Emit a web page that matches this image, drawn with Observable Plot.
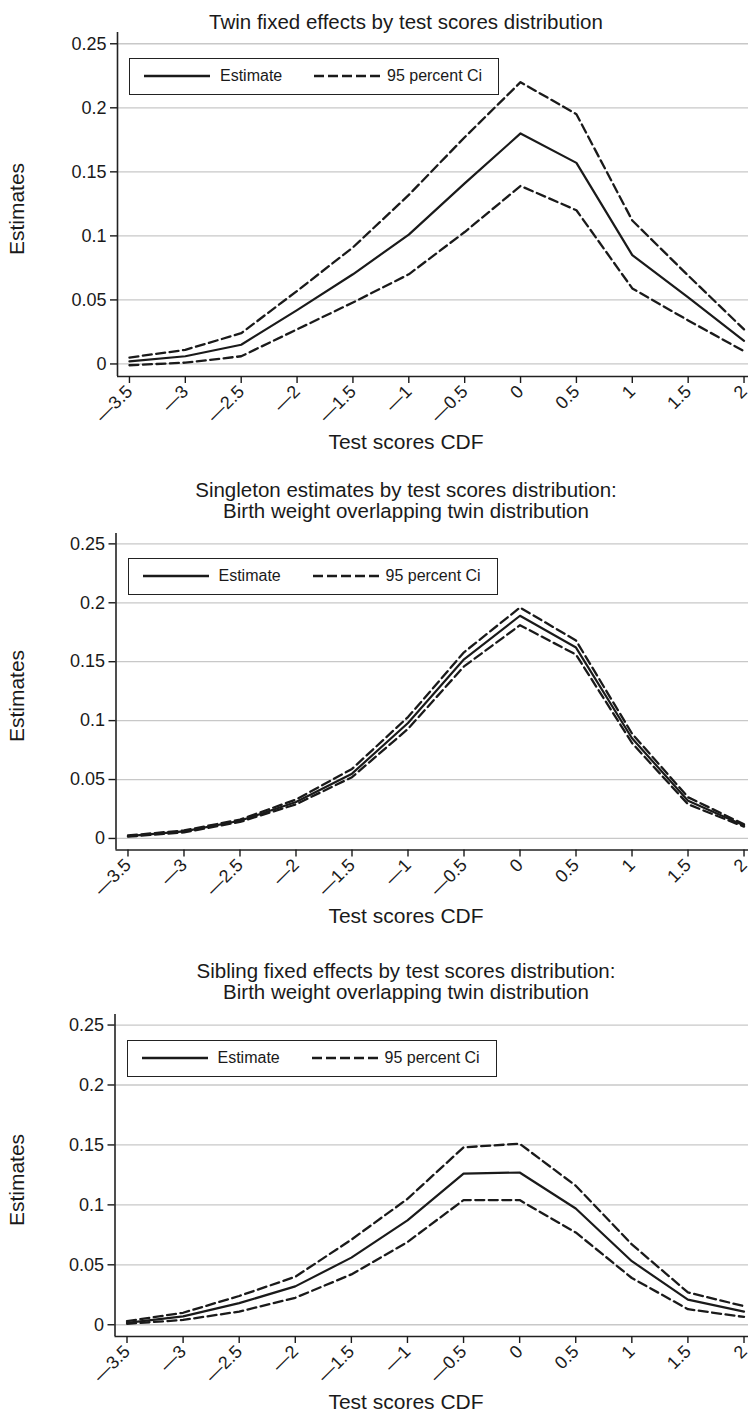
<!DOCTYPE html>
<html>
<head>
<meta charset="utf-8">
<script src="https://cdn.jsdelivr.net/npm/d3@7"></script>
<script src="https://cdn.jsdelivr.net/npm/@observablehq/plot@0.6"></script>
<style>
  body { margin: 0; background: #fff; }
  #page { position: relative; width: 748px; height: 1413px; overflow: hidden; background: #fff;
          font-family: "Liberation Sans", Arial, Helvetica, sans-serif; color: #1a1a1a; }
  .title { position: absolute; left: 0; width: 812px; text-align: center; font-size: 20.5px; line-height: 21px; white-space: nowrap; }
  .xlab { position: absolute; left: 0; width: 812px; text-align: center; font-size: 21px; line-height: 24px; white-space: nowrap; }
  .ylab { position: absolute; width: 200px; height: 24px; line-height: 24px; text-align: center; font-size: 21px; transform: rotate(-90deg); white-space: nowrap; }
  .plotwrap { position: absolute; left: 0; }
  .legend { position: absolute; width: 370px; height: 37px; box-sizing: border-box; border: 1.5px solid #222; background: #fff; }
  .legend span { position: absolute; top: 0; line-height: 34px; font-size: 16px; white-space: nowrap; }
  .legend svg { position: absolute; left: 0; top: 0; }
</style>
</head>
<body>
<div id="page"></div>
<script>
// ---------- data ----------
const xValues = [-3.5, -3, -2.5, -2, -1.5, -1, -0.5, 0, 0.5, 1, 1.5, 2];
const xTickLabels = ["\u20143.5", "\u20143", "\u20142.5", "\u20142", "\u20141.5", "\u20141", "\u20140.5", "0", "0.5", "1", "1.5", "2"];
const yTicks = [0, 0.05, 0.1, 0.15, 0.2, 0.25];
const yTickLabels = ["0", "0.05", "0.1", "0.15", "0.2", "0.25"];

const panelTitles = [
  ["Twin fixed effects by test scores distribution"],
  ["Singleton estimates by test scores distribution:", "Birth weight overlapping twin distribution"],
  ["Sibling fixed effects by test scores distribution:", "Birth weight overlapping twin distribution"]
];
const xAxisTitle = "Test scores CDF";
const yAxisTitle = "Estimates";
const legendLabels = ["Estimate", "95 percent Ci"];

const twinEstimate = [0.002, 0.006, 0.015, 0.042, 0.070, 0.101, 0.141, 0.180, 0.157, 0.085, 0.052, 0.018];
const twinUpper    = [0.005, 0.011, 0.024, 0.057, 0.091, 0.132, 0.177, 0.220, 0.195, 0.112, 0.069, 0.027];
const twinLower    = [-0.001, 0.001, 0.006, 0.027, 0.048, 0.070, 0.103, 0.139, 0.120, 0.059, 0.034, 0.010];

const singletonEstimate = [0.002, 0.006, 0.015, 0.031, 0.055, 0.098, 0.152, 0.189, 0.162, 0.085, 0.032, 0.011];
const singletonUpper    = [0.0025, 0.0068, 0.016, 0.033, 0.059, 0.103, 0.158, 0.196, 0.168, 0.089, 0.035, 0.012];
const singletonLower    = [0.0015, 0.0052, 0.014, 0.029, 0.052, 0.093, 0.146, 0.181, 0.156, 0.081, 0.029, 0.010];

const siblingEstimate = [0.0015, 0.007, 0.018, 0.032, 0.056, 0.087, 0.126, 0.127, 0.097, 0.053, 0.021, 0.011];
const siblingUpper    = [0.003, 0.010, 0.024, 0.040, 0.071, 0.105, 0.148, 0.151, 0.116, 0.067, 0.027, 0.0155];
const siblingLower    = [0.0008, 0.004, 0.011, 0.0225, 0.042, 0.069, 0.104, 0.104, 0.077, 0.039, 0.013, 0.0065];

// ---------- layout ----------
const xDomain = [-3.607, 2.04];
const yDomain = [-0.0098, 0.2588];
const panels = [
  {est: twinEstimate, up: twinUpper, lo: twinLower, top: 32, bottom: 376, left: 117, titleTop: 10.5},
  {est: singletonEstimate, up: singletonUpper, lo: singletonLower, top: 533, bottom: 849.5, left: 115.5, titleTop: 478.5},
  {est: siblingEstimate, up: siblingUpper, lo: siblingLower, top: 1014, bottom: 1336, left: 114.5, titleTop: 959.5}
];

const page = document.getElementById("page");
const FONT = '"Liberation Sans", Arial, Helvetica, sans-serif';
const INK = "#1a1a1a";
const yLabelMap = new Map(yTicks.map((t, i) => [t, yTickLabels[i]]));
const xLabelMap = new Map(xValues.map((t, i) => [t, xTickLabels[i]]));

panels.forEach((p, k) => {
  // title
  const t = document.createElement("div");
  t.className = "title";
  t.style.top = p.titleTop + "px";
  t.innerHTML = panelTitles[k].map(s => `<div>${s}</div>`).join("");
  page.appendChild(t);

  const rows = xValues.map((x, i) => ({x, est: p.est[i], up: p.up[i], lo: p.lo[i]}));
  const mt = 2, mb = 70;
  const h = (p.bottom - p.top) + mt + mb;

  const chart = Plot.plot({
    width: 748,
    height: h,
    marginTop: mt,
    marginBottom: mb,
    marginLeft: p.left,
    marginRight: 0,
    x: {domain: xDomain},
    y: {domain: yDomain},
    style: {fontFamily: FONT, fontSize: "18px", color: INK, background: "transparent", overflow: "visible"},
    marks: [
      Plot.gridY(yTicks, {stroke: "#c8c8c8", strokeOpacity: 1, strokeWidth: 1.3}),
      Plot.ruleX([xDomain[0]], {stroke: "#222", strokeWidth: 1.6}),
      Plot.ruleY([yDomain[0]], {stroke: "#222", strokeWidth: 1.6}),
      Plot.axisY(yTicks, {tickSize: 7, tickPadding: 4, strokeWidth: 1.4, fontSize: 18, label: null,
                          tickFormat: d => yLabelMap.get(d)}),
      Plot.axisX(xValues, {tickSize: 7, tickPadding: 5, strokeWidth: 1.4, fontSize: 18, label: null,
                           tickRotate: -45, tickFormat: d => xLabelMap.get(d)}),
      Plot.line(rows, {x: "x", y: "up", stroke: INK, strokeWidth: 2.3, strokeDasharray: "9,4.5"}),
      Plot.line(rows, {x: "x", y: "lo", stroke: INK, strokeWidth: 2.3, strokeDasharray: "9,4.5"}),
      Plot.line(rows, {x: "x", y: "est", stroke: INK, strokeWidth: 2.2})
    ]
  });
  const wrap = document.createElement("div");
  wrap.className = "plotwrap";
  wrap.style.top = (p.top - mt) + "px";
  wrap.appendChild(chart);
  page.appendChild(wrap);

  // y axis title
  const yl = document.createElement("div");
  yl.className = "ylab";
  const cy = (p.top + p.bottom) / 2 + 5;
  yl.style.left = (17 - 100) + "px";
  yl.style.top = (cy - 12) + "px";
  yl.textContent = yAxisTitle;
  page.appendChild(yl);

  // x axis title
  const xl = document.createElement("div");
  xl.className = "xlab";
  xl.style.top = (p.bottom + 71 - 17) + "px";
  xl.textContent = xAxisTitle;
  page.appendChild(xl);

  // legend (inside plot frame, upper left)
  const gridTop = p.top + (yDomain[1] - 0.25) / (yDomain[1] - yDomain[0]) * (p.bottom - p.top);
  const lg = document.createElement("div");
  lg.className = "legend";
  lg.style.left = (p.left + 12) + "px";
  lg.style.top = (gridTop + 15) + "px";
  lg.innerHTML =
    `<svg width="367" height="34">
       <line x1="14" x2="80" y1="17" y2="17" stroke="${INK}" stroke-width="2.6"/>
       <line x1="184" x2="250" y1="17" y2="17" stroke="${INK}" stroke-width="2.6" stroke-dasharray="10,4"/>
     </svg>
     <span style="left:90px">${legendLabels[0]}</span>
     <span style="left:257px">${legendLabels[1]}</span>`;
  page.appendChild(lg);
});
</script>
</body>
</html>
